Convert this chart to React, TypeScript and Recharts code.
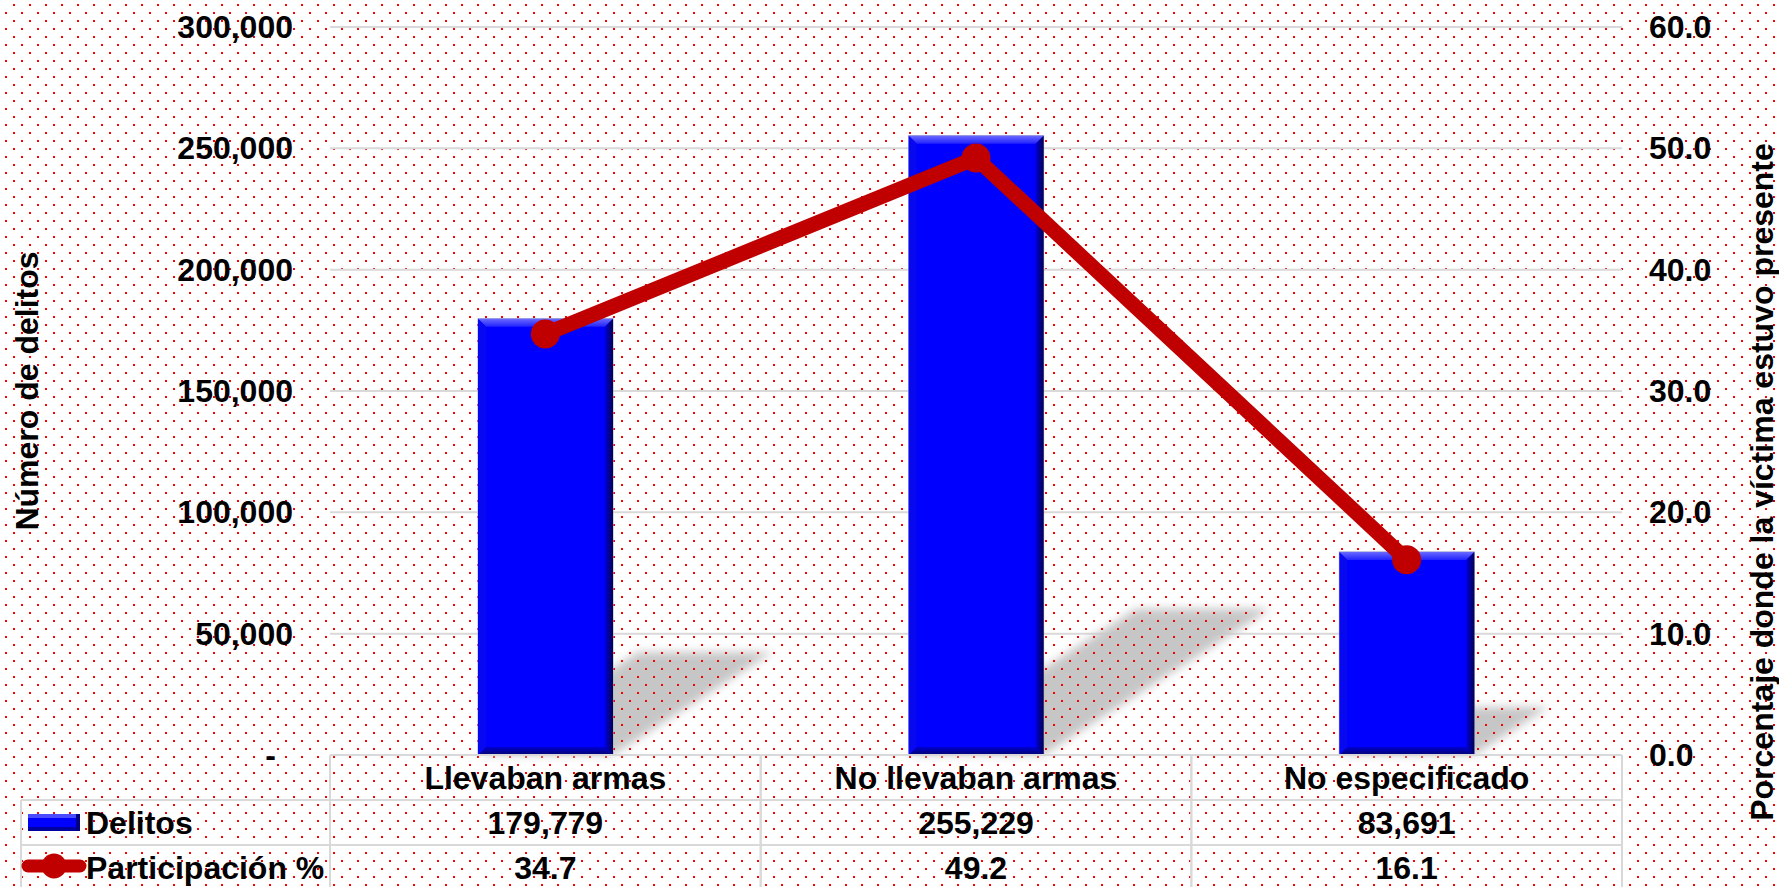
import React from 'react';
import { ComposedChart, Bar, Line, XAxis, YAxis, CartesianGrid } from 'recharts';

const categories = ['Llevaban armas', 'No llevaban armas', 'No especificado'];
const delitos = [179779, 255229, 83691];
const participacion = [34.7, 49.2, 16.1];
const leftTicks = [0, 50000, 100000, 150000, 200000, 250000, 300000];
const rightTicks = [0, 10, 20, 30, 40, 50, 60];
const seriesNames = ['Delitos', 'Participación %'];
const axisTitles = ['Número de delitos', 'Porcentaje donde la víctima estuvo presente'];

const data = categories.map((c, i) => ({ name: c, delitos: delitos[i], participacion: participacion[i] }));

const W = 1779;
const H = 887;
const LEFT_W = 330;
const RIGHT_W = 157;
const XAXIS_H = 132;
const TOP = 27;
const PLOT_L = LEFT_W;
const PLOT_R = W - RIGHT_W;
const PLOT_B = H - XAXIS_H;
const BAND = (PLOT_R - PLOT_L) / categories.length;
const ROW_H = 45;
const LEGEND_L = 21;
const FONT = "'Liberation Sans', Arial, Helvetica, sans-serif";
const GRID = '#d9d9d9';
const BLUE = '#0000ff';
const RED = '#c00000';
const FS = 32;

const txt = {
  fontFamily: FONT,
  fontSize: FS,
  fontWeight: 700,
  fill: '#000',
} as const;

const BevelBar = (props: any) => {
  const { x, y, width, height } = props;
  if (!height || height <= 0) return null;
  const base = y + height;
  const dx = 0.367 * height;
  const dy = 0.236 * height;
  const b = 8;
  const r = x + width;
  const shadow = `${x},${base} ${r},${base} ${r + dx},${base - dy} ${x + dx},${base - dy}`;
  return (
    <g>
      <polygon points={shadow} fill="#c6c6c6" filter="url(#shadowBlur)" />
      <rect x={r} y={base - dy - 24} width={dx + 40} height={dy + 22} fill="url(#dots)" />
      <rect x={x} y={y} width={width} height={height} fill={BLUE} stroke="#a8a8cc" strokeWidth={1} />
      <polygon points={`${x},${y} ${r},${y} ${r - b},${y + b} ${x + b},${y + b}`} fill="url(#bevelTop)" />
      <polygon points={`${r},${y} ${r},${base} ${r - b},${base - b} ${r - b},${y + b}`} fill="url(#bevelRight)" />
      <polygon points={`${x},${base} ${r},${base} ${r - b},${base - b} ${x + b},${base - b}`} fill="url(#bevelBottom)" />
      <polygon points={`${x},${y} ${x + b},${y + b} ${x + b},${base - b} ${x},${base}`} fill="#0808f0" />
    </g>
  );
};

const LeftTick = (props: any) => {
  const { x, y, payload } = props;
  const v = payload.value as number;
  const label = v === 0 ? '-' : v.toLocaleString('en-US');
  return (
    <text x={v === 0 ? x - 17 : x} y={y + 11} textAnchor="end" {...txt}>
      {label}
    </text>
  );
};

const RightTick = (props: any) => {
  const { x, y, payload } = props;
  return (
    <text x={x} y={y + 11} textAnchor="start" {...txt}>
      {(payload.value as number).toFixed(1)}
    </text>
  );
};

const TableTick = (props: any) => {
  const { x, payload, index } = props;
  const left = x - BAND / 2;
  const right = x + BAND / 2;
  const r1 = PLOT_B + ROW_H;
  const r2 = PLOT_B + 2 * ROW_H;
  const r3 = PLOT_B + 3 * ROW_H;
  const i = index as number;
  return (
    <g>
      <line x1={left} x2={right} y1={PLOT_B} y2={PLOT_B} stroke={GRID} strokeWidth={2} />
      <line x1={left} x2={right} y1={r1} y2={r1} stroke={GRID} strokeWidth={2} />
      <line x1={left} x2={right} y1={r2} y2={r2} stroke={GRID} strokeWidth={2} />
      <line x1={left} x2={left} y1={PLOT_B} y2={r3} stroke={GRID} strokeWidth={2} />
      <line x1={right} x2={right} y1={PLOT_B} y2={r3} stroke={GRID} strokeWidth={2} />
      <text x={x} y={PLOT_B + ROW_H / 2 + 11} textAnchor="middle" {...txt}>{payload.value}</text>
      <text x={x} y={r1 + ROW_H / 2 + 11} textAnchor="middle" {...txt}>{delitos[i].toLocaleString('en-US')}</text>
      <text x={x} y={r2 + ROW_H / 2 + 11} textAnchor="middle" {...txt}>{participacion[i].toFixed(1)}</text>
      {i === 0 && (
        <g>
          <line x1={LEGEND_L} x2={left} y1={r1} y2={r1} stroke={GRID} strokeWidth={2} />
          <line x1={LEGEND_L} x2={left} y1={r2} y2={r2} stroke={GRID} strokeWidth={2} />
          <line x1={LEGEND_L} x2={LEGEND_L} y1={r1} y2={r3} stroke={GRID} strokeWidth={2} />
          <rect x={28} y={r1 + 14} width={52} height={17} fill={BLUE} />
          <rect x={28} y={r1 + 14} width={52} height={4} fill="#4a4aff" />
          <rect x={28} y={r1 + 27} width={52} height={4} fill="#0000a0" />
          <rect x={76} y={r1 + 14} width={4} height={17} fill="#000080" />
          <text x={86} y={r1 + ROW_H / 2 + 11} {...txt}>{seriesNames[0]}</text>
          <line x1={28} x2={80} y1={r2 + 21} y2={r2 + 21} stroke={RED} strokeWidth={13} strokeLinecap="round" />
          <circle cx={54} cy={r2 + 21} r={12.5} fill={RED} />
          <text x={86} y={r2 + ROW_H / 2 + 11} {...txt}>{seriesNames[1]}</text>
        </g>
      )}
    </g>
  );
};

export default function App() {
  return (
    <div style={{ position: 'absolute', left: 0, top: 0, width: W, height: H, background: '#fff' }}>
      <svg width={W} height={H} style={{ position: 'absolute', left: 0, top: 0 }}>
        <defs>
          <pattern id="dots" patternUnits="userSpaceOnUse" x="0" y="0" width="16" height="16">
            <rect x="13" y="4" width="2" height="2" fill="#ff0000" />
            <rect x="5" y="12" width="2" height="2" fill="#ff0000" />
          </pattern>
          <filter id="shadowBlur" x="-50%" y="-50%" width="200%" height="200%">
            <feGaussianBlur stdDeviation="5" />
          </filter>
          <linearGradient id="bevelTop" x1="0" y1="0" x2="0" y2="1">
            <stop offset="0" stopColor="#6a6aff" />
            <stop offset="1" stopColor="#2222ff" />
          </linearGradient>
          <linearGradient id="bevelRight" x1="0" y1="0" x2="1" y2="0">
            <stop offset="0" stopColor="#0000d8" />
            <stop offset="1" stopColor="#000050" />
          </linearGradient>
          <linearGradient id="bevelBottom" x1="0" y1="0" x2="0" y2="1">
            <stop offset="0" stopColor="#0000d0" />
            <stop offset="1" stopColor="#000070" />
          </linearGradient>
        </defs>
        <rect width={W} height={H} fill="#fff" />
        <rect width={W} height={H} fill="url(#dots)" />
      </svg>
      <div style={{ position: 'absolute', left: 0, top: 0 }}>
        <ComposedChart
          width={W}
          height={H}
          data={data}
          margin={{ top: TOP, right: 0, left: 0, bottom: 0 }}
        >
          <CartesianGrid yAxisId="left" vertical={false} horizontal stroke={GRID} strokeWidth={2} />
          <XAxis
            dataKey="name"
            height={XAXIS_H}
            tickLine={false}
            axisLine={false}
            tickSize={0}
            tickMargin={0}
            interval={0}
            tick={TableTick}
          />
          <YAxis
            yAxisId="left"
            orientation="left"
            width={LEFT_W}
            domain={[0, 300000]}
            ticks={leftTicks}
            tickLine={false}
            axisLine={false}
            tickSize={0}
            tickMargin={37}
            tick={LeftTick}
            label={{
              content: () => (
                <text x={27} y={391} textAnchor="middle" dominantBaseline="central" transform="rotate(-90 27 391)" {...txt}>
                  {axisTitles[0]}
                </text>
              ),
            }}
          />
          <YAxis
            yAxisId="right"
            orientation="right"
            width={RIGHT_W}
            domain={[0, 60]}
            ticks={rightTicks}
            tickLine={false}
            axisLine={false}
            tickSize={0}
            tickMargin={27}
            tick={RightTick}
            label={{
              content: () => (
                <text x={1762} y={482} textAnchor="middle" dominantBaseline="central" transform="rotate(-90 1762 482)" {...txt}>
                  {axisTitles[1]}
                </text>
              ),
            }}
          />
          <Bar yAxisId="left" dataKey="delitos" barSize={135} shape={BevelBar} isAnimationActive={false} />
          <Line
            yAxisId="right"
            dataKey="participacion"
            type="linear"
            stroke={RED}
            strokeWidth={15}
            strokeLinejoin="round"
            strokeLinecap="round"
            dot={{ r: 14.5, fill: RED, stroke: 'none' }}
            activeDot={false}
            isAnimationActive={false}
          />
        </ComposedChart>
      </div>
    </div>
  );
}
